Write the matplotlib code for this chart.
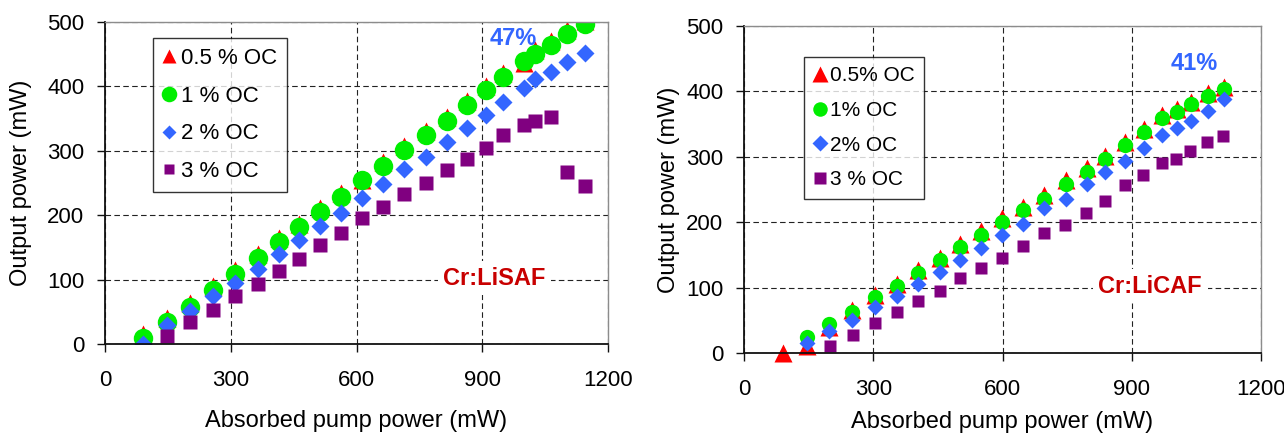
import matplotlib
matplotlib.use("Agg")
import matplotlib.pyplot as plt

RED, GREEN, BLUE, PURPLE = "#ff0000", "#00ee00", "#3366ff", "#800080"
LABEL_RED = "#c80000"

plt.rcParams.update({"font.family": ["Liberation Sans", "DejaVu Sans"]})

# ---- Cr:LiSAF (left panel)
lisaf_x = [90, 149, 203, 257, 311, 366, 416, 464, 513, 564, 614, 664,
           714, 765, 816, 863, 909, 950, 1000, 1027, 1063, 1103, 1145]
lisaf_05 = [15, 40, 64, 90, 115, 139, 164, 187, 211, 234, 255, 283,
            308, 331, 353, 377, 400, 421, 437, 457, 471, 488, 501]
lisaf_1 = [9, 34, 58, 84, 109, 133, 158, 181, 205, 228, 255, 277,
           302, 325, 347, 371, 395, 415, 439, 451, 465, 482, 497]
lisaf_2 = [0, 30, 52, 74, 95, 116, 139, 162, 184, 204, 227, 248,
           271, 291, 313, 336, 355, 376, 397, 412, 423, 438, 452]
lisaf_3_x = [149, 203, 257, 311, 366, 416, 464, 513, 564, 614, 664,
             714, 765, 816, 863, 909, 950, 1000, 1027, 1063, 1103, 1145]
lisaf_3 = [13, 34, 53, 74, 93, 113, 132, 153, 172, 195, 213,
           233, 250, 270, 287, 305, 325, 340, 347, 352, 267, 245]

# ---- Cr:LiCAF (right panel)
licaf_05_x = [90, 146, 198, 251, 303, 354, 405, 454, 502, 549, 599, 648,
              697, 747, 795, 838, 885, 928, 971, 1004, 1038, 1076, 1114]
licaf_05 = [0, 10, 40, 66, 88, 106, 127, 146, 167, 186, 206, 224,
            241, 264, 283, 301, 323, 342, 364, 373, 384, 397, 407]
licaf_x = [146, 198, 251, 303, 354, 405, 454, 502, 549, 599, 648,
           697, 747, 795, 838, 885, 928, 971, 1004, 1038, 1076, 1114]
licaf_1 = [24, 45, 63, 85, 102, 123, 142, 162, 181, 201, 219,
           236, 258, 277, 296, 318, 338, 360, 369, 380, 393, 404]
licaf_2 = [16, 34, 50, 70, 87, 105, 124, 142, 160, 180, 197,
           221, 236, 258, 276, 294, 313, 333, 344, 354, 370, 388]
licaf_3_x = [200, 253, 305, 354, 404, 454, 501, 549, 599, 648, 697,
             745, 793, 838, 885, 925, 971, 1002, 1036, 1074, 1112]
licaf_3 = [11, 27, 46, 62, 79, 95, 114, 130, 146, 164, 183,
           196, 214, 232, 257, 272, 291, 296, 309, 323, 332]

fig = plt.figure(figsize=(12.84, 4.33), dpi=100, facecolor="white")
ax1 = fig.add_axes([105/1284, (433-344)/433, 503/1284, 322/433])
ax2 = fig.add_axes([744/1284, (433-353)/433, 517/1284, 327/433])


def style(ax, xl, yl):
    ax.set_xlim(0, 1200)
    ax.set_ylim(0, 500)
    ax.set_xticks([0, 300, 600, 900, 1200])
    ax.set_yticks([0, 100, 200, 300, 400, 500])
    ax.grid(True, color="#222222", lw=0.8, ls=(0, (5, 3)))
    ax.set_axisbelow(True)
    for s in ("top", "right"):
        ax.spines[s].set_color("#8c8c8c")
        ax.spines[s].set_linewidth(1.0)
    for s in ("left", "bottom"):
        ax.spines[s].set_color("#111111")
        ax.spines[s].set_linewidth(1.3)
    ax.tick_params(direction="out", length=6, width=1, labelsize=16, color="#111111")
    ax.tick_params(axis="x", pad=13)
    ax.tick_params(axis="y", pad=9)
    ax.set_xlabel("Absorbed pump power (mW)", fontsize=17, va="center")
    ax.set_ylabel("Output power (mW)", fontsize=17, va="center")
    ax.xaxis.set_label_coords(0.5, xl)
    ax.yaxis.set_label_coords(yl, 0.5)


def legend(ax, anchor, fs, scale):
    lg = ax.legend(loc="upper left", bbox_to_anchor=anchor, fontsize=fs,
                   markerscale=scale, handlelength=0.6, handletextpad=0.2,
                   labelspacing=0.75, borderpad=0.45, borderaxespad=0,
                   frameon=True, fancybox=False)
    lg.get_frame().set_edgecolor("black")
    lg.get_frame().set_linewidth(1.0)


# left panel
ax1.plot(lisaf_x, lisaf_05, "^", color=RED, ms=13, mec="none", label="0.5 % OC")
ax1.plot(lisaf_x, lisaf_1, "o", color=GREEN, ms=14, mec="none", label="1 % OC")
ax1.plot(lisaf_x, lisaf_2, "D", color=BLUE, ms=9.5, mec="none", label="2 % OC")
ax1.plot(lisaf_3_x, lisaf_3, "s", color=PURPLE, ms=9.5, mec="none", label="3 % OC")
style(ax1, -0.24, -0.167)
ax1.text(918, 475, "47%", color=BLUE, fontsize=17, fontweight="bold", va="center")
ax1.text(929, 102, "Cr:LiSAF", color=LABEL_RED, fontsize=17, fontweight="bold",
         ha="center", va="center",
         bbox=dict(facecolor="white", edgecolor="none", pad=4))
legend(ax1, (0.095, 0.95), 16, 0.8)

# right panel
ax2.plot(licaf_05_x, licaf_05, "^", color=RED, ms=12.5, mec="none",
         label="0.5% OC", clip_on=False, zorder=1.9)
ax2.plot(licaf_x, licaf_1, "o", color=GREEN, ms=11, mec="none", label="1% OC")
ax2.plot(licaf_x, licaf_2, "D", color=BLUE, ms=8.5, mec="none", label="2% OC")
ax2.plot(licaf_3_x, licaf_3, "s", color=PURPLE, ms=8.5, mec="none", label="3 % OC")
style(ax2, -0.21, -0.145)
ax2.text(1046, 443, "41%", color=BLUE, fontsize=17, fontweight="bold",
         ha="center", va="center")
ax2.text(943, 102, "Cr:LiCAF", color=LABEL_RED, fontsize=17, fontweight="bold",
         ha="center", va="center",
         bbox=dict(facecolor="white", edgecolor="none", pad=4))
legend(ax2, (0.116, 0.905), 15, 0.95)

fig.savefig("out.png", dpi=100, facecolor="white")
